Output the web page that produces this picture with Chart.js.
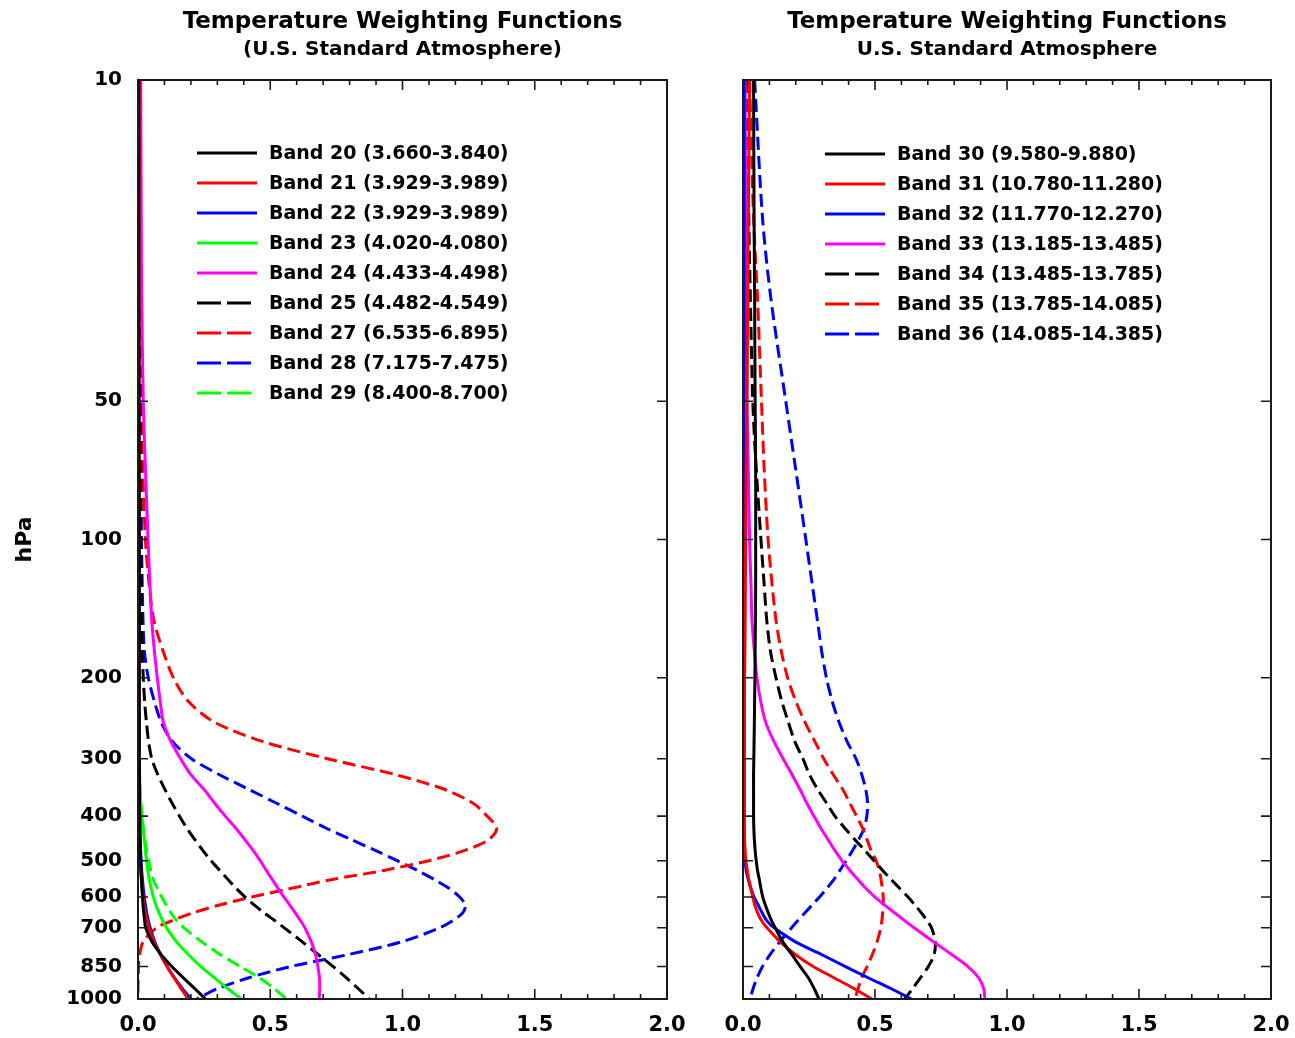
<!DOCTYPE html>
<html>
<head>
<meta charset="utf-8">
<script src="https://cdn.jsdelivr.net/npm/chart.js@4.4.1/dist/chart.umd.min.js"></script>
<style>
  html, body { margin: 0; padding: 0; background: #ffffff; }
  #wrap { position: relative; width: 1295px; height: 1038px; background: #ffffff; }
  #c1 { position: absolute; left: 0; top: 0; }
  #c2 { position: absolute; left: 700px; top: 0; }
</style>
</head>
<body>
<div id="wrap">
  <canvas id="c1" width="700" height="1038"></canvas>
  <canvas id="c2" width="595" height="1038"></canvas>
</div>
<script>
// ---------------- DATA ----------------
// pressure levels (hPa) shared by all curves
const pressure = [10, 20, 30, 50, 70, 100, 125, 150, 175, 200, 225, 250, 275, 300, 325, 350, 375, 400, 425, 450, 475, 500, 525, 550, 575, 600, 625, 650, 675, 700, 750, 800, 850, 900, 950, 1000];

// y-axis tick labels (hPa) and x-axis tick labels
const yTickValues = [10, 50, 100, 200, 300, 400, 500, 600, 700, 850, 1000];
const xTickValues = [0, 0.5, 1.0, 1.5, 2.0];

// Left panel legend labels
const leftLabels = [
  'Band 20 (3.660-3.840)',
  'Band 21 (3.929-3.989)',
  'Band 22 (3.929-3.989)',
  'Band 23 (4.020-4.080)',
  'Band 24 (4.433-4.498)',
  'Band 25 (4.482-4.549)',
  'Band 27 (6.535-6.895)',
  'Band 28 (7.175-7.475)',
  'Band 29 (8.400-8.700)'
];
// Right panel legend labels
const rightLabels = [
  'Band 30 (9.580-9.880)',
  'Band 31 (10.780-11.280)',
  'Band 32 (11.770-12.270)',
  'Band 33 (13.185-13.485)',
  'Band 34 (13.485-13.785)',
  'Band 35 (13.785-14.085)',
  'Band 36 (14.085-14.385)'
];

// weighting function values at each pressure level
const band20 = [.003,.003,.003,.004,.004,.005,.005,.005,.005,.005,.005,.005,.005,.005,.006,.006,.006,.007,.007,.008,.009,.010,.011,.013,.015,.017,.019,.022,.025,.029,.052,.087,.128,.172,.215,.255];
const band21 = [.004,.004,.004,.004,.004,.004,.004,.004,.004,.004,.004,.004,.004,.004,.004,.005,.005,.006,.006,.007,.008,.009,.011,.013,.016,.019,.023,.028,.034,.041,.060,.085,.110,.137,.163,.190];
const band22 = [.002,.002,.002,.002,.002,.002,.002,.002,.002,.002,.002,.002,.002,.002,.003,.004,.005,.006,.007,.008,.010,.012,.014,.017,.020,.024,.028,.033,.039,.046,.063,.085,.110,.138,.168,.200];
const band23 = [.001,.001,.001,.001,.001,.001,.001,.001,.001,.001,.001,.001,.002,.003,.005,.007,.010,.014,.019,.024,.028,.032,.037,.043,.050,.058,.068,.080,.093,.108,.145,.190,.238,.290,.340,.390];
const band24 = [.010,.012,.014,.020,.028,.038,.045,.052,.062,.073,.084,.096,.124,.161,.200,.250,.290,.330,.370,.404,.435,.462,.485,.508,.530,.552,.574,.595,.614,.631,.655,.671,.680,.686,.687,.685];
const band25 = [.008,.008,.009,.010,.010,.011,.012,.013,.016,.020,.025,.032,.040,.052,.075,.102,.129,.157,.185,.215,.245,.276,.309,.341,.372,.405,.440,.478,.517,.553,.620,.681,.738,.788,.833,.875];
const band27 = [.010,.010,.011,.013,.018,.028,.042,.060,.095,.134,.190,.290,.470,.717,.975,1.160,1.267,1.320,1.356,1.326,1.235,1.100,.930,.730,.576,.430,.305,.205,.130,.070,.020,.006,.002,.001,0,0];
const band28 = [.005,.005,.006,.008,.010,.013,.016,.019,.024,.039,.062,.088,.130,.202,.308,.420,.524,.621,.712,.807,.897,.980,1.056,1.122,1.177,1.216,1.238,1.227,1.190,1.140,1.000,.797,.576,.416,.300,.222];
const band29 = [.001,.001,.001,.001,.001,.001,.001,.001,.001,.001,.001,.001,.002,.003,.005,.008,.011,.016,.020,.026,.033,.041,.048,.058,.074,.090,.107,.125,.146,.174,.240,.310,.387,.460,.515,.562];

const band30 = [.040,.042,.044,.046,.048,.048,.048,.047,.046,.045,.044,.043,.042,.041,.040,.040,.040,.040,.041,.043,.046,.050,.055,.062,.068,.075,.085,.096,.108,.122,.150,.185,.217,.248,.270,.288];
const band31 = [.025,.020,.018,.015,.012,.010,.009,.008,.007,.006,.005,.005,.005,.005,.005,.005,.005,.005,.005,.006,.008,.011,.016,.022,.030,.037,.045,.056,.070,.091,.140,.198,.266,.346,.422,.488];
const band32 = [.004,.004,.004,.004,.004,.004,.004,.004,.004,.004,.004,.004,.004,.004,.004,.004,.004,.004,.004,.004,.006,.008,.012,.020,.030,.042,.058,.073,.090,.118,.197,.297,.388,.476,.562,.638];
const band33 = [.008,.010,.012,.015,.020,.025,.030,.034,.043,.053,.067,.086,.117,.152,.186,.216,.242,.269,.295,.322,.348,.375,.405,.436,.466,.500,.537,.575,.612,.648,.720,.790,.852,.893,.912,.916];
const band34 = [.015,.022,.028,.037,.050,.068,.080,.090,.104,.125,.147,.172,.196,.227,.252,.283,.317,.348,.386,.424,.462,.496,.529,.562,.594,.625,.652,.676,.697,.714,.728,.724,.702,.672,.642,.613];
const band35 = [.025,.040,.055,.070,.080,.095,.110,.125,.145,.169,.200,.235,.272,.306,.342,.378,.405,.430,.453,.470,.485,.504,.516,.523,.528,.531,.531,.529,.526,.522,.508,.490,.470,.449,.436,.424];
const band36 = [.044,.074,.106,.162,.199,.238,.262,.282,.298,.316,.338,.364,.394,.428,.450,.465,.472,.469,.459,.438,.415,.391,.367,.344,.317,.290,.261,.234,.208,.184,.140,.103,.074,.053,.038,.027];

const leftSeries = [band20, band21, band22, band23, band24, band25, band27, band28, band29];
const rightSeries = [band30, band31, band32, band33, band34, band35, band36];

// ---------------- STYLE ----------------
const FONT = 'DejaVu Sans';
Chart.defaults.font.family = FONT;
Chart.defaults.color = '#000000';

const leftStyles = [
  {c: '#000000', d: false}, {c: '#ff0000', d: false}, {c: '#0000ff', d: false},
  {c: '#00ff00', d: false}, {c: '#ff00ff', d: false}, {c: '#000000', d: true},
  {c: '#ff0000', d: true}, {c: '#0000ff', d: true}, {c: '#00ff00', d: true}
];
const rightStyles = [
  {c: '#000000', d: false}, {c: '#ff0000', d: false}, {c: '#0000ff', d: false},
  {c: '#ff00ff', d: false}, {c: '#000000', d: true}, {c: '#ff0000', d: true},
  {c: '#0000ff', d: true}
];

function makeDatasets(series, labels, styles) {
  return series.map((vals, i) => ({
    label: labels[i],
    data: pressure.map((p, k) => ({x: vals[k], y: p})),
    borderColor: styles[i].c,
    backgroundColor: styles[i].c,
    borderDash: styles[i].d ? [13, 6] : [],
    borderWidth: 3,
    pointRadius: 0,
    showLine: true,
    tension: 0.3,
    fill: false
  }));
}

const framePlugin = {
  id: 'frame',
  afterDatasetsDraw(chart) {
    const {ctx, chartArea: a, scales} = chart;
    const x = scales.x, y = scales.y;
    ctx.save();
    ctx.strokeStyle = '#1a1a1a';
    ctx.lineWidth = 2;
    ctx.setLineDash([]);
    ctx.strokeRect(a.left, a.top, a.right - a.left, a.bottom - a.top);
    ctx.lineWidth = 1.6;
    ctx.beginPath();
    for (let k = 0; k <= 20; k++) {
      const px = x.getPixelForValue(k / 10);
      const len = (k % 5 === 0) ? 10 : 5;
      ctx.moveTo(px, a.bottom); ctx.lineTo(px, a.bottom - len);
      ctx.moveTo(px, a.top); ctx.lineTo(px, a.top + len);
    }
    yTickValues.forEach(p => {
      const py = y.getPixelForValue(p);
      ctx.moveTo(a.left, py); ctx.lineTo(a.left + 10, py);
      ctx.moveTo(a.right, py); ctx.lineTo(a.right - 10, py);
    });
    ctx.stroke();
    ctx.restore();
  }
};

const legendPlugin = {
  id: 'bandLegend',
  afterDatasetsDraw(chart, args, opts) {
    const {ctx, chartArea: a} = chart;
    ctx.save();
    ctx.font = 'bold 19px "' + FONT + '"';
    ctx.textBaseline = 'middle';
    ctx.textAlign = 'left';
    chart.data.datasets.forEach((ds, i) => {
      const y0 = a.top + opts.top + i * opts.rowH;
      const x0 = a.left + opts.left;
      ctx.strokeStyle = ds.borderColor;
      ctx.lineWidth = 3;
      ctx.setLineDash(ds.borderDash && ds.borderDash.length ? [24, 6] : []);
      ctx.beginPath();
      ctx.moveTo(x0, y0);
      ctx.lineTo(x0 + 60, y0);
      ctx.stroke();
      ctx.setLineDash([]);
      ctx.fillStyle = '#000000';
      ctx.fillText(ds.label, x0 + 72, y0 + 1);
    });
    ctx.restore();
  }
};

function makeChart(canvasId, datasets, opt) {
  return new Chart(document.getElementById(canvasId), {
    type: 'scatter',
    data: {datasets},
    plugins: [framePlugin, legendPlugin],
    options: {
      responsive: false,
      animation: false,
      events: [],
      layout: {padding: {left: 0, right: opt.padRight, top: 0, bottom: 0}},
      scales: {
        x: {
          type: 'linear', min: 0, max: 2,
          afterBuildTicks: s => { s.ticks = xTickValues.map(v => ({value: v})); },
          afterFit: s => { s.height = 39; s.paddingLeft = 0; s.paddingRight = 0; },
          grid: {display: false, drawTicks: false},
          border: {display: false},
          ticks: {
            padding: 14, autoSkip: false, maxRotation: 0,
            font: {family: FONT, size: 21, weight: 'bold'}, color: '#000',
            callback: v => Number(v).toFixed(1)
          }
        },
        y: {
          type: 'logarithmic', reverse: true, min: 10, max: 1000,
          afterBuildTicks: s => { s.ticks = yTickValues.map(v => ({value: v})); },
          afterFit: s => { s.width = opt.yWidth; s.paddingTop = 0; s.paddingBottom = 0; },
          grid: {display: false, drawTicks: false},
          border: {display: false},
          ticks: {
            display: opt.yLabels, padding: 16, autoSkip: false,
            font: {family: FONT, size: 20, weight: 'bold'}, color: '#000',
            callback: v => String(v)
          },
          title: {
            display: opt.yLabels, text: 'hPa', color: '#000',
            font: {family: FONT, size: 22, weight: 'bold'},
            padding: {top: 12, bottom: 0}
          }
        }
      },
      plugins: {
        legend: {display: false},
        tooltip: {enabled: false},
        title: {
          display: true, text: 'Temperature Weighting Functions', fullSize: false,
          color: '#000', font: {family: FONT, size: 23, weight: 'bold'},
          padding: {top: 8, bottom: 2}
        },
        subtitle: {
          display: true, text: opt.subtitle, fullSize: false,
          color: '#000', font: {family: FONT, size: 20, weight: 'bold'},
          padding: {top: 0, bottom: 18.4}
        },
        bandLegend: opt.legend
      }
    }
  });
}

makeChart('c1', makeDatasets(leftSeries, leftLabels, leftStyles), {
  padRight: 33, yWidth: 138, yLabels: true,
  subtitle: '(U.S. Standard Atmosphere)',
  legend: {left: 59, top: 73, rowH: 30}
});
makeChart('c2', makeDatasets(rightSeries, rightLabels, rightStyles), {
  padRight: 24, yWidth: 43, yLabels: false,
  subtitle: 'U.S. Standard Atmosphere',
  legend: {left: 82, top: 74, rowH: 30}
});
</script>
</body>
</html>
